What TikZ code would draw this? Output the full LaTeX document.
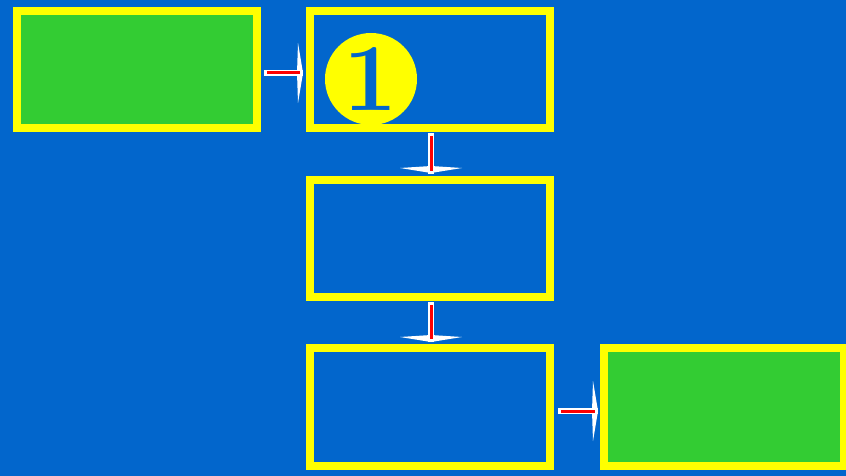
\documentclass[tikz,border=0pt]{standalone}
\usetikzlibrary{calc}
\definecolor{bg}{RGB}{2,102,204}
\definecolor{gr}{RGB}{51,204,51}
\definecolor{yl}{RGB}{255,255,0}
\definecolor{rd}{RGB}{255,0,0}
\begin{document}
\begin{tikzpicture}[x=1pt,y=-1pt,
  box/.style={draw=yl,line width=8pt,minimum width=240pt,minimum height=117pt,inner sep=0pt},
  greenbox/.style={box,fill=gr},
  bluebox/.style={box,fill=bg},
  conn/.style={draw=rd,line width=3pt,preaction={draw=white,line width=6pt,line cap=rect}},
  spikeR/.pic={\fill[white] (0,0) -- (-5,-30) -- (-6,0) -- (-5,30) -- cycle;},
  spikeD/.pic={\fill[white] (0,0) -- (-31,-5) -- (0,-7) -- (31,-5) -- cycle;}
]
\useasboundingbox (0,0) rectangle (846,476);
\clip (0,0) rectangle (846,476);
\fill[bg] (0,0) rectangle (846,476);

\node[greenbox] (A) at (137,69.5) {};
\node[bluebox]  (B) at (430,69.5) {};
\node[bluebox]  (C) at (430,238.5) {};
\node[bluebox,minimum height=118pt]  (D) at (430,407) {};
\node[greenbox,minimum height=118pt] (E) at (724,407) {};

\node[circle,fill=yl,minimum size=92pt,inner sep=0pt,text=bg,
      font=\fontsize{96}{96}\selectfont\bfseries] (one) at (371,79) {1};

% arrowheads
\pic at ([xshift=-3pt,yshift=-3.5pt]B.west) {spikeR};
\pic at ([xshift=1pt,yshift=3pt]C.north) {spikeD};
\pic at ([xshift=1pt,yshift=2pt]D.north) {spikeD};
\pic at ([xshift=-2pt,yshift=-4pt]E.west) {spikeR};

% connectors
\draw[conn,shorten <=6pt,shorten >=6pt] ([yshift=-3.5pt]A.east) -- ([yshift=-3.5pt]B.west);
\draw[conn,shorten <=4pt,shorten >=5pt] ([xshift=1pt]B.south) -- ([xshift=1pt]C.north);
\draw[conn,shorten <=4pt,shorten >=5pt] ([xshift=1pt]C.south) -- ([xshift=1pt]D.north);
\draw[conn,shorten <=7pt,shorten >=5pt] ([yshift=-4pt]D.east) -- ([yshift=-4pt]E.west);
\end{tikzpicture}
\end{document}
